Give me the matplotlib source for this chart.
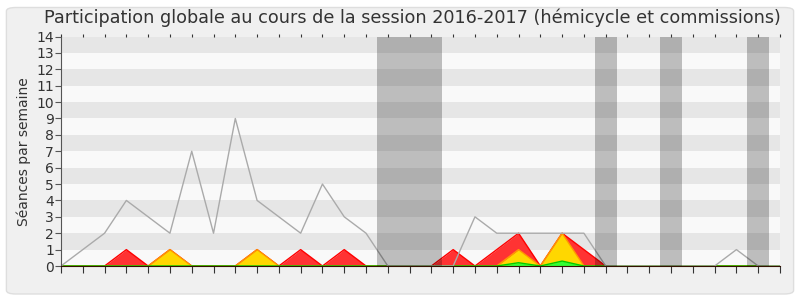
import matplotlib
matplotlib.use("Agg")
import matplotlib.pyplot as plt
from matplotlib.patches import FancyBboxPatch
import numpy as np

# Weekly data (34 weeks, Sept 2016 -> Apr 2017)
weeks = list(range(34))
total_seances = [0, 1, 2, 4, 3, 2, 7, 2, 9, 4, 3, 2, 5, 3, 2, 0, 0, 0, 0, 3,
                 2, 2, 2, 2, 2, 0, 0, 0, 0, 0, 0, 1, 0, 0]
presences = [0, 0, 0, 1, 0, 1, 0, 0, 0, 1, 0, 1, 0, 1, 0, 0, 0, 0, 1, 0,
             1, 2, 0, 2, 1, 0, 0, 0, 0, 0, 0, 0, 0, 0]
participations = [0, 0, 0, 0, 0, 1, 0, 0, 0, 1, 0, 0, 0, 0, 0, 0, 0, 0, 0, 0,
                  0, 1, 0, 2, 0, 0, 0, 0, 0, 0, 0, 0, 0, 0]
interventions = [0, 0, 0, 0, 0, 0, 0, 0, 0, 0, 0, 0, 0, 0, 0, 0, 0, 0, 0, 0,
                 0, 0.2, 0, 0.3, 0, 0, 0, 0, 0, 0, 0, 0, 0, 0]
vacances = [(14.5, 17.5), (24.5, 25.5), (27.5, 28.5), (31.5, 32.5)]
month_pos = [0, 4, 9, 14, 18, 21, 25, 30]
month_labels = ["Sept", "Oct", "Nov", "Déc", "Jan 17", "Fév", "Mar", "Avr"]
title = "Participation globale au cours de la session 2016-2017 (hémicycle et commissions)"
ylabel = "Séances par semaine"

fig = plt.figure(figsize=(8, 3), dpi=100)
fig.patch.set_facecolor("white")
bg = FancyBboxPatch((0.008, 0.02), 0.984, 0.955, boxstyle="round,pad=0,rounding_size=0.012",
                    transform=fig.transFigure, facecolor="#f0f0f0", edgecolor="#dedede",
                    linewidth=1.0, zorder=-10)
fig.patches.append(bg)

ax = fig.add_axes([61/800, 1-266/300, (780-61)/800, (266-36.5)/300])
ax.set_facecolor("#f9f9f9")
ax.set_xlim(0, 33)
ax.set_ylim(0, 14)

for y0 in range(1, 14, 2):
    ax.axhspan(y0, y0 + 1, color="#e6e6e6", lw=0, zorder=0)

x = np.array(weeks)
ax.fill_between(x, presences, color="#ff3333", lw=0, zorder=2)
ax.plot(x, presences, color="#ff0000", lw=1, zorder=2.1)
ax.fill_between(x, participations, color="#ffd700", lw=0, zorder=3)
ax.plot(x, participations, color="#ff9900", lw=1, zorder=3.1)
ax.fill_between(x, interventions, color="#33ff33", lw=0, zorder=4)
ax.plot(x, interventions, color="#00cc00", lw=1, zorder=4.1)
ax.plot(x, total_seances, color="#aaaaaa", lw=1, zorder=5)

for a, b in vacances:
    ax.axvspan(a, b, color="black", alpha=0.24, lw=0, zorder=6)

ax.set_xticks(weeks)
ax.set_xticklabels([])
ax.set_xticks(month_pos, minor=True)
ax.set_xticklabels(month_labels, minor=True, fontsize=10, color="#333333")
ax.tick_params(axis="x", which="minor", length=0, pad=3)
ax.tick_params(axis="x", which="major", direction="out", length=5, color="#333333",
               top=True, labeltop=False)
for t in ax.xaxis.get_major_ticks():
    t.tick2line.set_markersize(2)
    t.tick2line.set_color("#666666")
ax.set_yticks(range(15))
ax.set_yticklabels([str(i) for i in range(15)], fontsize=10, color="#333333")
ax.tick_params(axis="y", direction="out", length=4, color="#555555", pad=1)

for s in ["top", "right"]:
    ax.spines[s].set_visible(False)
ax.spines["left"].set_color("#555555")
ax.spines["bottom"].set_color("#331100")
ax.spines["left"].set_zorder(7)
ax.spines["bottom"].set_zorder(7)

ax.set_ylabel(ylabel, fontsize=10, color="#333333", labelpad=4)
fig.text(0.515, 0.94, title, ha="center", va="center", fontsize=12.7, color="#333333")

fig.savefig("out.png", dpi=100, facecolor=fig.get_facecolor())
